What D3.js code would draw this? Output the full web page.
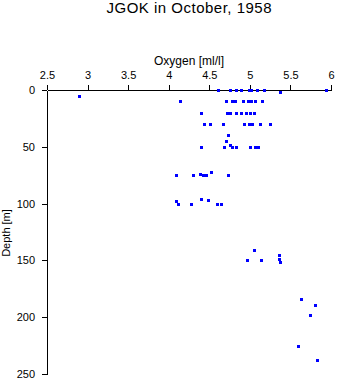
<!DOCTYPE html>
<html>
<head>
<meta charset="utf-8">
<script src="https://cdn.jsdelivr.net/npm/d3@7"></script>
<style>
  html, body { margin: 0; padding: 0; background: #fff; }
  svg { display: block; font-family: "Liberation Sans", Arial, Helvetica, sans-serif; }
</style>
</head>
<body>
<svg id="chart" width="338" height="384"></svg>
<script>
const title = "JGOK in October, 1958";
const xLabel = "Oxygen [ml/l]";
const yLabel = "Depth [m]";
const xTicks = [2.5, 3, 3.5, 4, 4.5, 5, 5.5, 6];
const yTicks = [0, 50, 100, 150, 200, 250];

const oxygen = [
  4.61, 4.75, 4.83, 4.89, 4.99, 5.02, 5.09, 5.18, 5.94,
  5.37,
  2.89,
  4.14, 4.70, 4.78, 4.82, 4.91, 4.98, 5.01, 5.06, 5.15,
  4.40, 4.72, 4.75, 4.83, 4.89, 4.95, 5.00, 5.05,
  4.44, 4.51, 4.67, 4.93, 4.99, 5.03, 5.12, 5.25,
  4.73, 4.71, 4.76,
  4.40, 4.68, 4.78, 4.83, 5.00, 5.06, 5.10,
  4.52, 4.38,
  4.09, 4.30, 4.42, 4.46, 4.73,
  4.40, 4.48, 4.09,
  4.12, 4.27, 4.59, 4.64,
  5.05, 5.36, 5.36, 4.97, 5.14, 5.37,
  5.63, 5.80, 5.74, 5.59, 5.83
];
const depth = [
  0, 0, 0, 0, 0, 0, 0, 0, 0,
  2,
  5,
  10, 10, 10, 10, 10, 10, 10, 10, 10,
  20, 20, 20, 20, 20, 20, 20, 20,
  30, 30, 30, 30, 30, 30, 30, 30,
  40, 45, 48,
  50, 50, 50, 50, 50, 50, 50,
  72, 74,
  75, 75, 75, 75, 75,
  96, 97, 98,
  100, 100, 100, 100,
  141, 145, 149, 150, 150, 151,
  184, 189, 198, 225, 238
];

const svg = d3.select("#chart");
const x = d3.scaleLinear().domain([2.5, 6]).range([47, 331]);
const y = d3.scaleLinear().domain([0, 250]).range([90, 374]);

// title
svg.append("text")
  .attr("x", 189).attr("y", 13)
  .attr("text-anchor", "middle")
  .attr("font-size", 15)
  .attr("textLength", 165)
  .attr("lengthAdjust", "spacing")
  .text(title);

// x axis (top)
const gx = svg.append("g")
  .attr("transform", "translate(0,90)")
  .call(d3.axisTop(x).tickValues(xTicks).tickSize(5).tickSizeOuter(0).tickPadding(6)
    .tickFormat(d3.format("")));
gx.selectAll("text").attr("font-size", 11).attr("fill", "#000");
gx.selectAll("path,line").attr("stroke", "#000").attr("shape-rendering", "crispEdges");
gx.attr("font-family", null);

// y axis (left)
const gy = svg.append("g")
  .attr("transform", "translate(47,0)")
  .call(d3.axisLeft(y).tickValues(yTicks).tickSize(5).tickSizeOuter(0).tickPadding(7));
gy.selectAll("text").attr("font-size", 11).attr("fill", "#000");
gy.selectAll("path,line").attr("stroke", "#000").attr("shape-rendering", "crispEdges");
gy.attr("font-family", null);

// axis labels
svg.append("text")
  .attr("x", 189).attr("y", 65)
  .attr("text-anchor", "middle")
  .attr("font-size", 12)
  .text(xLabel);

svg.append("text")
  .attr("transform", "translate(10,233) rotate(-90)")
  .attr("text-anchor", "middle")
  .attr("font-size", 11)
  .text(yLabel);

// points
svg.append("g").selectAll("rect")
  .data(oxygen.map((o, i) => ({o, d: depth[i]})))
  .join("rect")
  .attr("x", p => Math.round(x(p.o)) - 1.5)
  .attr("y", p => Math.round(y(p.d)) - 1)
  .attr("width", 3.5)
  .attr("height", 3)
  .attr("fill", "#0000ff")
  .attr("shape-rendering", "crispEdges");
</script>
</body>
</html>
